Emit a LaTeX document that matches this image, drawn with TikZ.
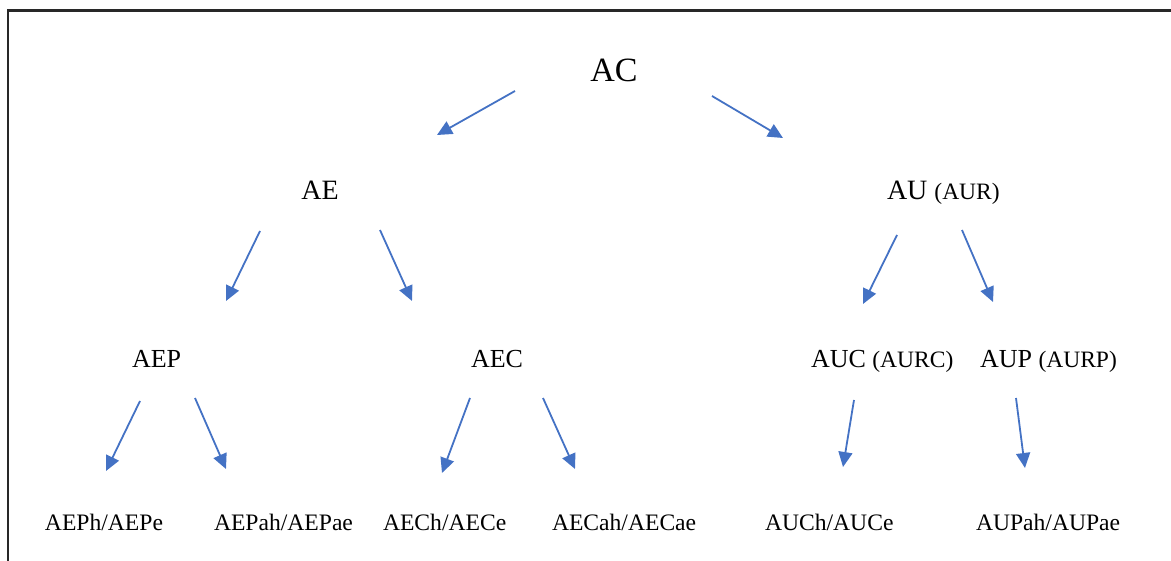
\documentclass[tikz,border=0pt]{standalone}
\usepackage{fontspec}
\setmainfont{Liberation Serif}
\usetikzlibrary{arrows.meta}
\definecolor{arrowblue}{RGB}{68,114,196}
\definecolor{framegray}{RGB}{40,40,40}
\begin{document}
\begin{tikzpicture}[x=1pt,y=-1pt,
  lbl/.style={inner sep=0pt,outer sep=0pt,anchor=base west,text=black},
  lblc/.style={inner sep=0pt,outer sep=0pt,anchor=base,text=black},
  arr/.style={draw=arrowblue,line width=1.8pt,-{Triangle[length=15pt,width=14pt]}},
  frameline/.style={draw=framegray,line width=2.2pt}]
\useasboundingbox (0,0) rectangle (1171,561);
% frame
\coordinate (fb) at (8,561);
\coordinate (fc) at (8,10.5);
\coordinate (fr) at (1171,10.5);
\draw[frameline] (fb) -- (fc) -- (fr);
% fonts
\newcommand{\fA}{\fontsize{34}{40}\selectfont}
\newcommand{\fB}{\fontsize{28}{32}\selectfont}
\newcommand{\fC}{\fontsize{26}{30}\selectfont}
\newcommand{\fP}{\fontsize{23.5}{27}\selectfont}
\newcommand{\fD}{\fontsize{23.6}{27}\selectfont}
% nodes
\node[lblc] (AC) at (614,82) {\fA AC};
\node[lblc] (AE) at (320,200) {\fB AE};
\node[lbl] (AU) at (887,200) {\fB AU {\fP(AUR)}};
\node[lbl] (AEP) at (132,368) {\fC AEP};
\node[lblc] (AEC) at (497,368) {\fC AEC};
\node[lbl] (AUC) at (811,368) {\fC AUC {\fP(AURC)}};
\node[lbl] (AUP) at (980,368) {\fC AUP {\fP(AURP)}};
\node[lbl] (AEPh) at (45,530) {\fD AEPh/AEPe};
\node[lbl] (AEPah) at (214,530) {\fD AEPah/AEPae};
\node[lbl] (AECh) at (383,530) {\fD AECh/AECe};
\node[lbl] (AECah) at (552,530) {\fD AECah/AECae};
\node[lbl] (AUCh) at (765,530) {\fD AUCh/AUCe};
\node[lbl] (AUPah) at (976,530) {\fD AUPah/AUPae};
% arrow ends
\coordinate (s1) at (515,91);   \coordinate (t1) at (437,135);
\coordinate (s2) at (712,96);   \coordinate (t2) at (783,138);
\coordinate (s3) at (260,231);  \coordinate (t3) at (226,301);
\coordinate (s4) at (380,230);  \coordinate (t4) at (412,301);
\coordinate (s5) at (897,235);  \coordinate (t5) at (863,304);
\coordinate (s6) at (962,230);  \coordinate (t6) at (993,302);
\coordinate (s7) at (140,401);  \coordinate (t7) at (106,471);
\coordinate (s8) at (195,398);  \coordinate (t8) at (226,469);
\coordinate (s9) at (470,398);  \coordinate (t9) at (442,473);
\coordinate (s10) at (543,398); \coordinate (t10) at (575,469);
\coordinate (s11) at (854,400); \coordinate (t11) at (843,467);
\coordinate (s12) at (1016,398);\coordinate (t12) at (1025,468);
\foreach \i in {1,...,12} \draw[arr] (s\i) -- (t\i);
\end{tikzpicture}
\end{document}
